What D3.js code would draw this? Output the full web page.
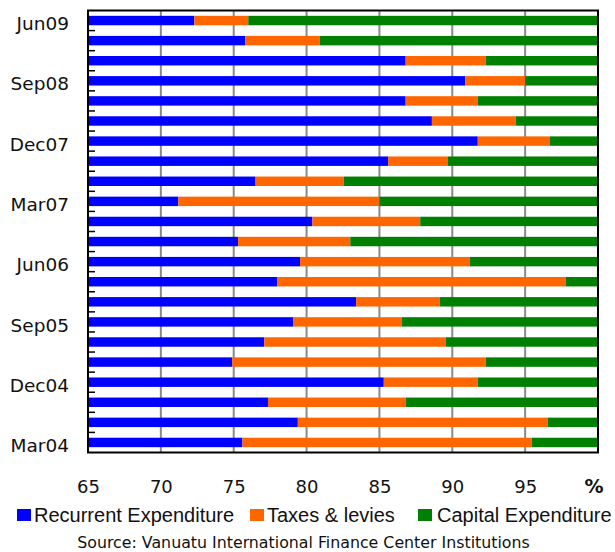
<!DOCTYPE html>
<html>
<head>
<meta charset="utf-8">
<script src="https://cdn.jsdelivr.net/npm/d3@7"></script>
<style>
  html, body { margin: 0; padding: 0; background: #fff; }
  svg { display: block; }
</style>
</head>
<body>
<svg id="chart" width="615" height="552"></svg>
<script>
// Quarterly composition of government spending, % share (Mar04 → Jun09)
const quarters = ["Mar04","Jun04","Sep04","Dec04","Mar05","Jun05","Sep05","Dec05",
                  "Mar06","Jun06","Sep06","Dec06","Mar07","Jun07","Sep07","Dec07",
                  "Mar08","Jun08","Sep08","Dec08","Mar09","Jun09"];
const recurrent = [75.6,79.4,77.35,85.3,74.9,77.1,79.1,83.4,
                   78.0,79.55,75.3,80.4,71.2,76.5,85.6,91.75,
                   88.6,86.8,90.9,86.8,75.8,72.3];
const taxes     = [19.85,17.15,9.45,6.45,17.4,12.45,7.45,5.75,
                   19.8,11.65,7.7,7.4,13.8,6.05,4.1,4.95,
                   5.75,4.95,4.1,5.5,5.1,3.7];
const capital   = [4.55,3.45,13.2,8.25,7.7,10.45,13.45,10.85,
                   2.2,8.8,17.0,12.2,15.0,17.45,10.3,3.3,
                   5.65,8.25,5.0,7.7,19.1,24.0];
const seriesNames = ["Recurrent Expenditure","Taxes & levies","Capital Expenditure"];
const seriesColors = ["#0000ff","#ff6600","#008000"];
const xTicks = [65,70,75,80,85,90,95];
const yLabels = ["Jun09","Sep08","Dec07","Mar07","Jun06","Sep05","Dec04","Mar04"];
const sourceText = "Source: Vanuatu International Finance Center Institutions";

const svg = d3.select("#chart");
const plotLeft = 88, plotRight = 598, plotTop = 10.5, plotBottom = 452.5;

const rows = quarters.map((q, i) => ({
  quarter: q, r: recurrent[i], t: taxes[i], c: capital[i]
}));
const keys = ["r","t","c"];
const stacked = d3.stack().keys(keys)(rows);

const x = d3.scaleLinear().domain([65, 100]).range([plotLeft, plotRight]);
const y = d3.scaleBand()
  .domain(quarters.slice().reverse())
  .range([plotTop, plotBottom])
  .paddingInner(0.53)
  .paddingOuter(0.265);
const color = d3.scaleOrdinal().domain(keys).range(seriesColors);

// vertical grid lines
svg.append("g")
  .selectAll("line")
  .data(xTicks.slice(1))
  .join("line")
  .attr("x1", d => x(d)).attr("x2", d => x(d))
  .attr("y1", plotTop).attr("y2", plotBottom)
  .attr("stroke", "#8a8a8a")
  .attr("stroke-width", 2);

svg.append("clipPath").attr("id", "plotClip")
  .append("rect")
  .attr("x", plotLeft).attr("y", plotTop)
  .attr("width", plotRight - plotLeft).attr("height", plotBottom - plotTop);

// stacked bars
svg.append("g")
  .attr("clip-path", "url(#plotClip)")
  .selectAll("g")
  .data(stacked)
  .join("g")
  .attr("fill", d => color(d.key))
  .selectAll("rect")
  .data(d => d)
  .join("rect")
  .attr("x", d => x(d[0]))
  .attr("width", d => Math.max(0, x(d[1]) - x(d[0])))
  .attr("y", d => y(d.data.quarter))
  .attr("height", y.bandwidth());

// small inward ticks on the left axis between categories
const step = y.step();
svg.append("g")
  .selectAll("line")
  .data(d3.range(1, quarters.length))
  .join("line")
  .attr("x1", plotLeft).attr("x2", plotLeft + 7)
  .attr("y1", i => plotTop + i * step).attr("y2", i => plotTop + i * step)
  .attr("stroke", "#000")
  .attr("stroke-width", 1.5);

// plot frame
svg.append("rect")
  .attr("x", plotLeft).attr("y", plotTop)
  .attr("width", plotRight - plotLeft).attr("height", plotBottom - plotTop)
  .attr("fill", "none")
  .attr("stroke", "#000")
  .attr("stroke-width", 2);

// x axis labels
const xAxis = svg.append("g")
  .attr("transform", `translate(0,${plotBottom})`)
  .call(d3.axisBottom(x).tickValues(xTicks).tickSize(0).tickPadding(27.5).tickFormat(d3.format("d")));
xAxis.select(".domain").remove();
xAxis.selectAll("text")
  .attr("font-family", "DejaVu Sans, sans-serif")
  .attr("font-size", 18)
  .attr("fill", "#111");

svg.append("text")
  .attr("x", x(100) - 4)
  .attr("y", 493)
  .attr("text-anchor", "middle")
  .attr("font-family", "DejaVu Sans, sans-serif")
  .attr("font-size", 19)
  .attr("font-weight", "bold")
  .attr("fill", "#111")
  .text("%");

// y axis labels
const yAxis = svg.append("g")
  .attr("transform", `translate(${plotLeft},0)`)
  .call(d3.axisLeft(y).tickValues(yLabels).tickSize(0).tickPadding(19));
yAxis.select(".domain").remove();
yAxis.selectAll("text")
  .attr("dy", "0.52em")
  .attr("font-family", "DejaVu Sans, sans-serif")
  .attr("font-size", 18.5)
  .attr("fill", "#111");

// legend
const legendX = [17, 250, 418];
const legend = svg.append("g")
  .selectAll("g")
  .data(seriesNames)
  .join("g")
  .attr("transform", (d, i) => `translate(${legendX[i]},0)`);
legend.append("rect")
  .attr("x", 0).attr("y", 509)
  .attr("width", 14).attr("height", 12)
  .attr("fill", (d, i) => seriesColors[i]);
legend.append("text")
  .attr("x", (d, i) => i === 2 ? 19 : 17)
  .attr("y", 522)
  .attr("font-family", "Liberation Sans, Arial, sans-serif")
  .attr("font-size", 20)
  .attr("fill", "#111")
  .text(d => d);

// source note
svg.append("text")
  .attr("x", 303.5)
  .attr("y", 548)
  .attr("text-anchor", "middle")
  .attr("font-family", "DejaVu Sans, sans-serif")
  .attr("font-size", 15.8)
  .attr("fill", "#111")
  .text(sourceText);
</script>
</body>
</html>
